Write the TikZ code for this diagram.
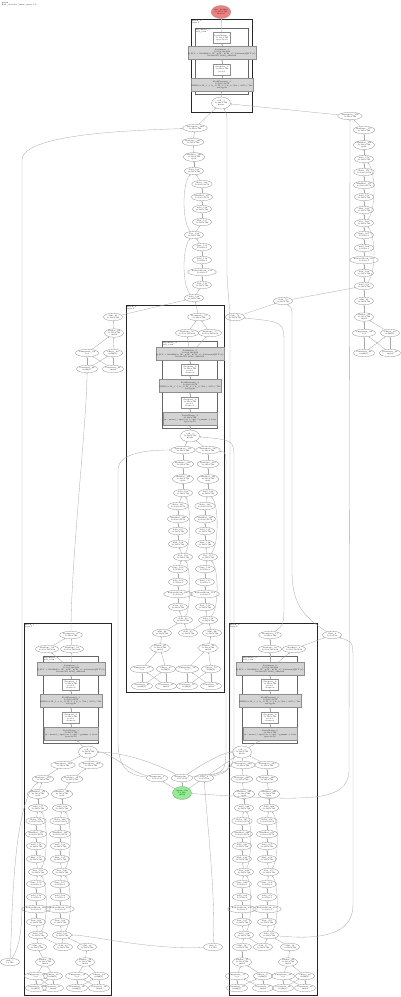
\documentclass[tikz,border=0pt]{standalone}
\usepackage{tikz}
\usetikzlibrary{shapes.geometric,arrows.meta}
\definecolor{ink}{HTML}{8E8E8E}
\definecolor{wire}{HTML}{A6A6A6}
\definecolor{opgray}{HTML}{D3D3D3}
\definecolor{outred}{HTML}{F08080}
\definecolor{ingreen}{HTML}{90EE90}
\newcommand{\shpA}{1×128×768}
\newcommand{\shpB}{1×128×1}
\newcommand{\shpC}{1×128×3072}
\newcommand{\shpK}{1×12×128×64}
\newcommand{\shpAx}{\shpA\\fp32}
\tikzset{
  tiny/.style={font=\fontsize{1.9}{2.2}\selectfont},
  op/.style={tiny, ellipse, draw=ink, line width=0.3pt, inner sep=0.1pt,
    minimum width=19pt, minimum height=7.5pt, align=center},
  graybox/.style={tiny, rectangle, draw=ink, fill=opgray, line width=0.3pt,
    inner sep=0.5pt, minimum width=49pt, minimum height=13pt, align=center},
  whitebox/.style={tiny, rectangle, draw=ink, fill=white, line width=0.3pt,
    inner sep=0.5pt, minimum width=17pt, minimum height=11pt, align=center},
  edge/.style={draw=wire, line width=0.3pt, -{Stealth[length=1.4pt,width=1.2pt]}},
  clus/.style={draw=black!85, line width=0.9pt},
  inclus/.style={draw=black!60, line width=0.6pt},
  ctitle/.style={tiny, anchor=north west, inner sep=0.6pt, align=left},
}
\begin{document}
\begin{tikzpicture}[x=1pt,y=-1pt]
  \useasboundingbox (0,0) rectangle (400,997);
  \node[ctitle] (ttl) at (1,1) {graph\\bert\_encoder (onnx, opset 13)};

  % output and first block
  \node[op, fill=outred, minimum height=13pt] (out) at (221,12) {last\_hidden\\\shpA\\float32};
  \draw[clus] (191,19) rectangle (252,112);
  \node[ctitle] (tA) at (191,19) {Block\_3\\layer.3};
  \draw[inclus] (195,28) rectangle (248,94);
  \node[ctitle] (tAi) at (195,28) {Attention\_3\\self\_attn};
  \node[whitebox] (a1) at (222,38) {LayerNorm\_3\\\shpA\\eps=1e-12};
  \node[graybox] (a2) at (222,53) {Attention\_3\\\shpK\\Q,K,V = MatMul(x, W\_q/W\_k/W\_v); Softmax(QK\^{}T/8)\\heads=12, head\_dim=64};
  \node[whitebox] (a3) at (222,69.5) {Dropout\_3\\\shpA\\p=0.1};
  \node[graybox] (a4) at (222,85) {FeedForward\_3\\\shpC\\GELU(x W\_1 + b\_1) W\_2 + b\_2, 768 / 3072 / 768\\act=gelu};
  \node[op, minimum height=12pt] (callA) at (221,103) {call\_3\\\shpA\\block};

  % other blocks
  \draw[clus] (126,305) rectangle (224,692);
  \node[ctitle] (tB) at (126,305) {Block\_2\\layer.2};
  \draw[clus] (24,623) rectangle (111,995);
  \node[ctitle] (tC) at (24,623) {Block\_1\\layer.1};
  \draw[clus] (229,623) rectangle (317,995);
  \node[ctitle] (tD) at (229,623) {Block\_0\\layer.0};
  \foreach \c/\x/\y/\k in {b/190/354/2, c/71/669/1, d/270/669/0}{
    \draw[inclus] (\x-28,\y-13) rectangle (\x+27,\y+74);
    \node[ctitle] (\c t) at (\x-28,\y-13) {Attention\_\k\\self\_attn};
    \node[graybox] (\c x1) at (\x,\y) {Attention\_\k\\\shpK\\Q,K,V = MatMul(x, W\_q/W\_k/W\_v); Softmax(QK\^{}T/8)\\heads=12, head\_dim=64};
    \node[whitebox] (\c x2) at (\x,\y+16) {Dropout\_\k\\\shpA\\p=0.1\\train=0};
    \node[graybox] (\c x3) at (\x,\y+32) {FeedForward\_\k\\\shpC\\GELU(x W\_1 + b\_1) W\_2 + b\_2, 768 / 3072 / 768\\act=gelu};
    \node[whitebox] (\c x4) at (\x,\y+49) {Dropout\_\k\\\shpA\\p=0.1\\train=0};
    \node[graybox] (\c x5) at (\x,\y+65) {LayerNorm\_\k\\\shpA\\(x - mean) / sqrt(var + eps) * gamma + beta\\eps=1e-12};
    \foreach \j/\h in {1/2,2/3,3/4,4/5} \draw[edge] (\c x\h) -- (\c x\j);
  }
  \node[op, minimum height=12pt] (callB) at (190,436) {call\_2\\\shpA\\block};
  \node[op, minimum height=12pt] (callC) at (88,752) {call\_1\\\shpA\\block};
  \node[op, minimum height=12pt] (callD) at (242,752) {call\_0\\\shpA\\block};
  \node[op] (bt) at (199,317) {Transpose\_57\\\shpA};
  \node[op] (bL) at (187,333) {Reshape\_56\\\shpK};
  \node[op] (bR) at (210,333) {Reshape\_55\\\shpK};
  \node[op] (sB) at (235,317) {Sub\_58\\\shpA};
  \node[op] (b1) at (283,301) {Add\_59\\\shpA};
  \node[op] (g1) at (113,317) {Mul\_61\\\shpA};
  \node[op] (cT) at (71,635) {Transpose\_25\\\shpA};
  \node[op] (cA) at (47,649) {Reshape\_24\\\shpK};
  \node[op] (cB) at (72,649) {Reshape\_23\\\shpK};
  \node[op] (dT) at (270,635) {Transpose\_11\\\shpA};
  \node[op] (dA) at (270,649) {Reshape\_10\\\shpK};
  \node[op] (dB) at (294,649) {Reshape\_9\\\shpK};
  \node[op] (sDt) at (332,635) {Cast\_8\\1×1×128};
  \node[op] (r15) at (364,301) {Mul\_91\\\shpA};
  \foreach \n/\x/\y/\t in {u1/162/633/Mul\_64, u2/188/633/Add\_65, u3/212/633/Mul\_66,
      cs1/37/947/Mul\_28, cs2/63/947/Add\_29, cs3/87/947/Mul\_30,
      ds1/242/947/Mul\_14, ds2/263/947/Add\_15, ds3/290/947/Mul\_16}
    \node[op] (\n) at (\x,\y) {\t\\\shpA};
  \node[op] (sC) at (10,962) {Sub\_5\\1×128};
  \node[op] (sD) at (213,947) {Sub\_6\\1×128};
  \foreach \n/\x/\t in {k1/157/Unsqueeze\_2, k2/182/Unsqueeze\_3, k3/204/Cast\_4}
    \node[op] (\n) at (\x,778) {\t\\1×1×128};
  \node[op, fill=ingreen, minimum height=13pt] (in) at (182,793) {input\_ids\\1×128\\int64};

  % encoder chains
  \foreach \P/\X/\Xa/\Xb/\O/\Y/\S/\N in {
      l/194/195/193/8/128/-12/143, r/364/350/364/0/116/12/177,
      p/183/183/183/-5/450/8/112, q/208/208/208/-3/450/11/126,
      s/38/63/43/-2/765/10/181, t/62/91/72/-2/765/10/195,
      m/244/243/242/-2/765/8/250, n/269/267/267/-2/765/10/264}{
    \foreach \i/\dy/\fa/\fb/\fc/\op/\sh in {
        1/0/1/0/0/Transpose/\shpA, 2/14/0/1/0/Reshape/\shpA,
        3/29/0/0/0/MatMul/\shpAx, 4/43/0/0/0/Add/\shpA,
        5/56/0/0/1/Relu/\shpC, 6/69/0/0/1/MatMul/\shpC,
        7/81/0/0/1/Add/\shpA, 8/94/0/0/1/Mul/\shpA,
        9/107/0/0/0/Div/\shpA, 10/119/0/0/1/Sqrt/\shpB,
        11/132/0/0/1/Add/\shpB, 12/144/0/0/1/ReduceMean/\shpB,
        13/157/0/0/1/Pow/\shpA, 14/170/0/0/0/Add/\shpA}{
      \pgfmathtruncatemacro\k{\N-\i}
      \node[op] (\P\i) at ({\X*(1-\fa-\fb)+\Xa*\fa+\Xb*\fb+\O*\fc},{\Y+\dy}) {\op\_\k\\\sh};
    }
    \foreach \j [evaluate=\j as \h using int(\j+1)] in {1,...,13}
      \draw[edge] (\P\h) -- (\P\j);
    \draw[edge] (\P14) .. controls +(\S,-12) and +(\S,12) .. (\P9);
    \draw[edge] (\P9) .. controls +(\S,-12) and +(\S,12) .. (\P4);
  }

  % gather groups
  \foreach \G/\vx/\vy/\xa/\xb/\ya/\yb/\N in {
      gR/364/317/364/390/333/353/92, gL/114/333/87/113/353/369/62,
      gB1/160/648/142/166/669/686/67, gB2/208/648/187/211/669/686/70,
      gC1/45/962/36/53/976/988/31, gC2/85/962/77/99/976/988/34,
      gD1/242/962/237/263/976/988/17, gD2/288/962/283/305/976/988/20}{
    \node[op] (\G v) at (\vx,\vy) {Gather\_\N\\\shpA\\int64};
    \node[op] (\G wa) at (\xa,\ya) {Unsqueeze\_\N\\1×1};
    \node[op] (\G wb) at (\xb,\ya) {Shape\_\N\\int64[3]};
    \node[op] (\G za) at (\xa,\yb) {Constant\_\N\\int64[1]};
    \node[op] (\G zb) at (\xb,\yb) {Constant\_\N\\int64};
    \foreach \a/\b in {za/wa, zb/wb, za/wb, zb/wa, wa/v, wb/v}
      \draw[edge] (\G\a) -- (\G\b);
  }

  % short connectors
  \foreach \a/\b in {gB1v/u1, u1/p14, u2/p14, u2/q14, gB2v/u3, u3/q14,
      gC1v/cs1, cs1/s14, cs2/s14, cs2/t14, gC2v/cs3, cs3/t14,
      gD1v/ds1, ds1/m14, ds2/m14, ds2/n14, gD2v/ds3, ds3/n14,
      gRv/r15, r15/r14, b1/r14, sB/b1, gLv/g1, g1/l14, bt/l14,
      bL/bt, bR/bt, bx1/bL, bx1/bR, cx1/cA, cx1/cB, cA/cT, cB/cT,
      dx1/dA, dx1/dB, dA/dT, dB/sDt, callA/a4, a4/a3, a3/a2, a2/a1, a1/out,
      l1/callA, r1/callA, callB/bx5, callC/cx5, callD/dx5, p1/callB, q1/callB,
      s1/callC, t1/callC, m1/callD, n1/callD, in/k1, in/k2, in/k3, k3/callD}
    \draw[edge] (\a) -- (\b);

  % long connectors
  \draw[edge] (sC) .. controls (20,945) and (22,930) .. (22,900) -- (22,160) .. controls (22,132) and (150,130) .. (l1);
  \draw[edge] (sC) .. controls (12,930) and (12,800) .. (s2);
  \draw[edge] (in) .. controls (300,800) and (349,805) .. (349,770) -- (r1);
  \draw[edge] (k1) .. controls (125,775) and (118,765) .. (118,740) -- (118,470) .. controls (118,452) and (150,450) .. (p1);
  \draw[edge] (k3) .. controls (226,770) .. (226,740) -- (226,470) .. controls (226,452) .. (q1);
  \draw[edge] (k3) .. controls (230,772) .. (230,740) -- (230,330) .. controls (230,300) and (227,290) .. (227,270) -- (227,125) .. controls (227,115) .. (callA);
  \draw[edge] (k2) .. controls (234,772) .. (234,740) -- (234,460) .. controls (234,440) .. (callB);
  \draw[edge] (dT) .. controls (284,625) .. (284,600) -- (284,345) .. controls (284,322) .. (sB);
  \draw[edge] (sDt) .. controls (300,615) and (292,600) .. (292,570) -- (292,320) .. controls (292,308) .. (b1);
  \draw[edge] (n14) .. controls (320,940) and (353,935) .. (353,905) -- (353,660) .. controls (353,642) .. (sDt);
  \draw[edge] (cT) .. controls (71,560) and (87,420) .. (gLza);
  \draw[edge] (sD) .. controls (150,950) and (90,935) .. (t14);
  \draw[edge] (sD) .. controls (216,900) and (207,820) .. (k3);
  \draw[edge] (k1) .. controls (130,772) and (110,752) .. (callC);
  \draw[edge] (k2) .. controls (160,765) and (125,752) .. (callC);
  \draw[edge] (k2) .. controls (205,762) and (225,752) .. (callD);
\end{tikzpicture}
\end{document}
